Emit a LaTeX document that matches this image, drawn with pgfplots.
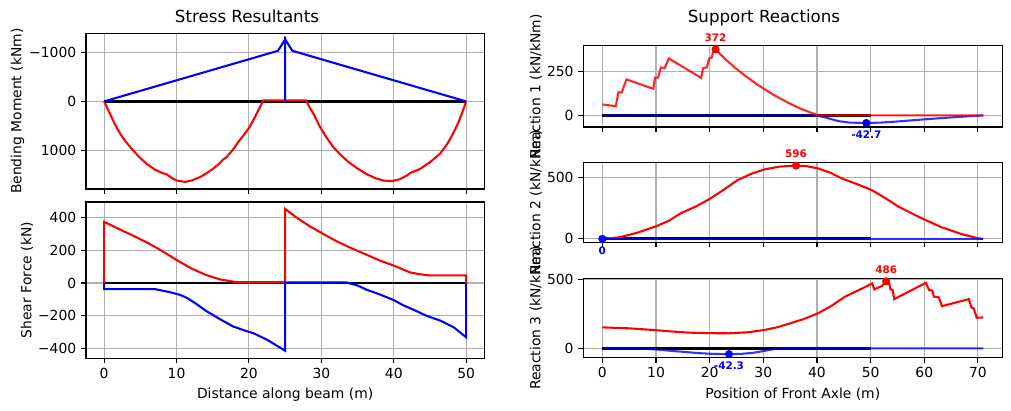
\documentclass[border=0pt]{standalone}
\usepackage{pgfplots}
\pgfplotsset{compat=1.18}
\usepackage{fontspec}
\setmainfont{DejaVu Sans}
\definecolor{gridgray}{HTML}{B0B0B0}
\newcommand{\PX}[1]{#1*0.72pt}
\pgfplotsset{
 myax/.style={
  scale only axis, anchor=north west,
  axis line style={line width=0.8pt},
  tick align=outside, xtick pos=left, ytick pos=left,
  major tick length=3.5pt,
  every tick/.style={black, line width=0.8pt},
  grid=major, major grid style={color=gridgray, line width=0.8pt},
  tick label style={font=\fontsize{10}{12}\selectfont},
  label style={font=\fontsize{10}{12}\selectfont},
  ylabel style={inner sep=0pt},
  /pgf/number format/assume math mode=true,
  /pgf/number format/1000 sep={},
  clip mode=individual,
 },
}
\tikzset{ann/.style={font=\fontsize{7.5}{9}\selectfont\bfseries, inner sep=0pt}}
\begin{document}
\begin{tikzpicture}
\useasboundingbox (0,0) rectangle (\PX{1011},-\PX{411});
\node[anchor=base, font=\fontsize{12}{14}\selectfont] at (\PX{247},-\PX{22.7}) {Stress Resultants};
\node[anchor=base, font=\fontsize{12}{14}\selectfont] at (\PX{764},-\PX{22.7}) {Support Reactions};

% ---------- Bending moment ----------
\begin{axis}[myax, at={(\PX{86},-\PX{33.3})}, width=\PX{398.3}, height=\PX{155.7},
  xmin=-2.5, xmax=52.5, ymin=-1400, ymax=1800, y dir=reverse,
  xtick={0,10,20,30,40,50}, xticklabels={},
  ytick={-1000,0,1000}, yticklabels={−1000,0,1000},
  ylabel={Bending Moment (kNm)}]
\addplot[black, line width=2pt] coordinates {(0,0) (50,0)};
\addplot[red, line width=1.5pt] coordinates {
(0,0) (0.8,250) (1.5,470) (2.2,660) (3.0,830) (4.0,1005) (4.9,1150) (5.9,1285)
(7.0,1400) (8.1,1475) (8.6,1495) (9.3,1570) (10.0,1625) (11.2,1655) (12.2,1620)
(13.2,1560) (14.1,1480) (15.0,1390) (15.9,1280) (16.4,1200) (16.9,1145) (17.8,990)
(18.7,800) (19.4,670) (20.1,525) (20.7,360) (21.3,180) (22.0,-20) (27.9,-20)
(28.3,100) (28.9,250) (29.8,520) (30.7,740) (31.6,930) (32.6,1090) (33.7,1240)
(34.9,1370) (36.2,1490) (37.4,1575) (38.5,1625) (39.7,1640) (40.8,1600) (41.8,1525)
(42.3,1470) (43.6,1390) (45.0,1250) (46.4,1075) (47.4,870) (48.2,660) (48.9,440)
(49.4,250) (50,0)};
\addplot[blue, line width=1.5pt] coordinates {
(0,0) (24,-1040) (25,-1275) (25,0) (25,-1275) (26,-1040) (50,0)};
\end{axis}

% ---------- Shear force ----------
\begin{axis}[myax, at={(\PX{86},-\PX{202})}, width=\PX{398.3}, height=\PX{156.3},
  xmin=-2.5, xmax=52.5, ymin=-458, ymax=493,
  xtick={0,10,20,30,40,50},
  ytick={-400,-200,0,200,400}, yticklabels={−400,−200,0,200,400},
  xlabel={Distance along beam (m)}, ylabel={Shear Force (kN)}]
\addplot[black, line width=2pt] coordinates {(0,0) (50,0)};
\addplot[red, line width=1.5pt] coordinates {
(0,0) (0,372) (2,330) (4,288) (6,245) (8,195) (10,140) (12,90) (14,50) (16,22)
(18.3,5) (25,5) (25,451) (26.5,400) (28.4,345) (30,305) (32.1,254) (34,215)
(36.2,173) (38,138) (40,106) (41,88) (42.2,65) (43.5,54) (44.8,47) (50,47) (50,0)};
\addplot[blue, line width=1.5pt] coordinates {
(0,0) (0,-37) (7,-37) (9,-55) (10.5,-72) (11.4,-90) (12.5,-120) (14.1,-170) (16,-220)
(17.8,-264) (19.5,-290) (20.6,-305) (22.5,-345) (25,-412) (25,3) (33.5,3) (35,-15)
(36.2,-40) (38.1,-70) (39.9,-102) (41.3,-135) (42.7,-162) (44.5,-199) (46.5,-230)
(48.3,-270) (50,-330) (50,0)};
\end{axis}

% ---------- Reaction 1 ----------
\begin{axis}[myax, at={(\PX{583.3},-\PX{45.7})}, width=\PX{419}, height=\PX{81.3},
  xmin=-3.55, xmax=74.55, ymin=-65, ymax=393,
  xtick={0,10,...,70}, xticklabels={}, ytick={0,250},
  ylabel={Reaction 1 (kN/kNm)}]
\addplot[black, line width=2pt] coordinates {(0,0) (50,0)};
\addplot[blue, line width=1.5pt, opacity=0.8] coordinates {
(0,0) (40,0) (42,-15) (44,-32) (46,-40) (49.2,-42.7) (52,-40) (55,-34) (60,-22) (65,-11) (71,0)};
\addplot[red, line width=1.5pt, opacity=0.85] coordinates {
(0,62) (2.5,52) (3.0,131) (3.6,129) (4.5,203) (9.5,150) (9.8,212) (10.4,214) (10.9,271)
(11.6,267) (12.4,321) (18.4,212) (18.8,267) (19.5,271) (19.9,321) (20.4,327) (20.7,368)
(21.1,372) (23,315) (25,262) (27,215) (29,172) (31,133) (33,98) (35,66) (37,38) (39,14)
(40.2,0) (71,0)};
\addplot[only marks, mark=*, mark size=2.7pt, red] coordinates {(21.1,372)};
\addplot[only marks, mark=*, mark size=2.7pt, blue] coordinates {(49.2,-42.7)};
\node[ann, red, anchor=south, yshift=5.5pt] at (axis cs:21.1,372) {372};
\node[ann, blue, anchor=north, yshift=-5.5pt] at (axis cs:49.2,-42.7) {-42.7};
\end{axis}

% ---------- Reaction 2 ----------
\begin{axis}[myax, at={(\PX{583.3},-\PX{162.3})}, width=\PX{419}, height=\PX{80},
  xmin=-3.55, xmax=74.55, ymin=-28, ymax=623,
  xtick={0,10,...,70}, xticklabels={}, ytick={0,500},
  ylabel={Reaction 2 (kN/kNm)}]
\addplot[black, line width=2pt] coordinates {(0,0) (50,0)};
\addplot[red, line width=1.5pt] coordinates {
(0,0) (3.3,13) (6.5,50) (10.2,105) (12.5,150) (14.6,208) (17.5,265) (20.2,330) (22.8,405)
(25.2,478) (27.8,530) (30.2,565) (33,588) (36.1,596) (38,592) (40.2,573) (42.5,538)
(44.6,492) (47.5,445) (50.2,397) (52.8,330) (55.2,262) (57.8,205) (60.2,154) (63.2,95)
(67,38) (70,5) (71,0)};
\addplot[blue, line width=1.5pt, opacity=0.8] coordinates {(0,0) (71,0)};
\addplot[only marks, mark=*, mark size=2.7pt, red] coordinates {(36.1,596)};
\addplot[only marks, mark=*, mark size=2.7pt, blue] coordinates {(0,0)};
\node[ann, red, anchor=south, yshift=5.5pt] at (axis cs:36.1,596) {596};
\node[ann, blue, anchor=north, yshift=-5.5pt] at (axis cs:0,0) {0};
\end{axis}

% ---------- Reaction 3 ----------
\begin{axis}[myax, at={(\PX{583.3},-\PX{278.3})}, width=\PX{419}, height=\PX{79.4},
  xmin=-3.55, xmax=74.55, ymin=-68, ymax=508,
  xtick={0,10,...,70}, ytick={0,500},
  xlabel={Position of Front Axle (m)}, ylabel={Reaction 3 (kN/kNm)}]
\addplot[black, line width=2pt] coordinates {(0,0) (50,0)};
\addplot[red, line width=1.5pt] coordinates {
(0,152) (5,145) (9.5,133) (13,122) (16,114) (20,110) (23.6,109) (27,116) (30.2,133)
(32.5,152) (34.6,176) (37.5,212) (40.2,254) (42.7,308) (45.2,374) (48.2,430) (50.3,470)
(50.7,428) (52.1,452) (52.9,483) (53.5,466) (53.7,428) (54.1,423) (54.4,357) (60.3,475)
(60.9,423) (61.5,418) (61.8,375) (62.7,370) (63.3,306) (68.3,357) (68.8,297) (69.2,290)
(69.8,222) (71,224)};
\addplot[blue, line width=1.5pt, opacity=0.8] coordinates {
(0,0) (5,0) (7,-1) (10,-8) (14,-22) (18,-35) (21,-41) (23.6,-42.3) (26,-40) (28,-33)
(30,-20) (31.5,-9) (32.8,0) (71,0)};
\addplot[only marks, mark=*, mark size=2.7pt, red] coordinates {(52.9,486)};
\addplot[only marks, mark=*, mark size=2.7pt, blue] coordinates {(23.6,-42.3)};
\node[ann, red, anchor=south, yshift=5.5pt] at (axis cs:52.9,486) {486};
\node[ann, blue, anchor=north, yshift=-5.5pt] at (axis cs:23.6,-42.3) {-42.3};
\end{axis}
\end{tikzpicture}
\end{document}
